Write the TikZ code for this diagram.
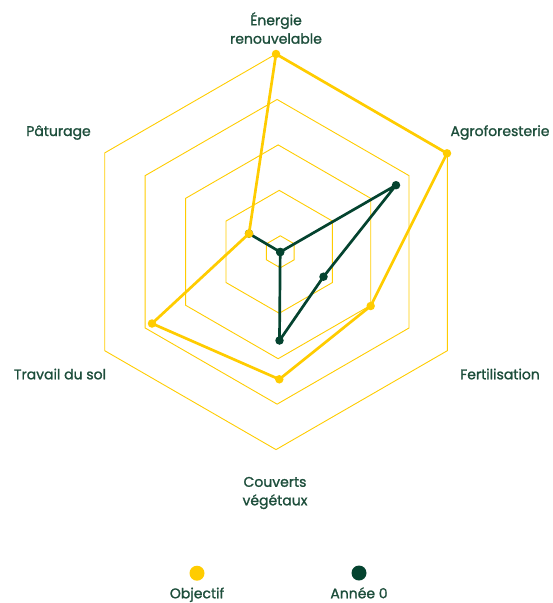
\documentclass[tikz,border=0pt]{standalone}
\usepackage{fontspec}
\setmainfont{Poppins}
\newfontfamily\lblfont{Poppins}[FakeBold=1.3]
\definecolor{gold}{HTML}{FFCC00}
\definecolor{forest}{HTML}{04432F}
\definecolor{labelgreen}{HTML}{1D4E3B}
\tikzset{
  gridline/.style={draw=gold, line width=0.9pt, line join=miter},
  series/.style={line width=2.7pt, line join=round, line cap=round},
  dot/.style={circle, inner sep=0pt, minimum size=8.5pt},
  legdot/.style={circle, inner sep=0pt, minimum size=15pt},
  lbl/.style={font=\lblfont\fontsize{14}{18.5}\selectfont, text=labelgreen, inner sep=0pt, align=center},
}
\begin{document}
\begin{tikzpicture}[x=1pt,y=-1pt]
\useasboundingbox (0,0) rectangle (553,603);
% grid rings
\foreach \k in {0,...,4}{
  \pgfmathsetmacro\cx{280.3-1.07*\k}
  \pgfmathsetmacro\rr{16+45.45*\k}
  \draw[gridline] ({\cx},{251.8-\rr}) -- ({\cx+0.866*\rr},{251.8-0.5*\rr})
    -- ({\cx+0.866*\rr},{251.8+0.5*\rr}) -- ({\cx},{251.8+\rr})
    -- ({\cx-0.866*\rr},{251.8+0.5*\rr}) -- ({\cx-0.866*\rr},{251.8-0.5*\rr}) -- cycle;
}
% data coordinates
\coordinate (oE) at (276,54);
\coordinate (oA) at (447,153.3);
\coordinate (oF) at (370.7,306);
\coordinate (oC) at (279.3,379.3);
\coordinate (oT) at (152,323.5);
\coordinate (oP) at (249,233.6);
\coordinate (aE) at (280.2,252);
\coordinate (aA) at (396,185.2);
\coordinate (aF) at (323.5,276.7);
\coordinate (aC) at (279.5,340.5);
\coordinate (aT) at (280.2,252);
\coordinate (aP) at (249,233.6);
% Année 0 series
\draw[series, forest] (aE) -- (aA) -- (aF) -- (aC) -- (aT) -- (aP) -- cycle;
\foreach \p in {aE,aA,aF,aC,aT,aP}{ \node[dot, fill=forest] (d\p) at (\p) {}; }
% Objectif series
\draw[series, gold] (oE) -- (oA) -- (oF) -- (oC) -- (oT) -- (oP) -- cycle;
\foreach \p in {oE,oA,oF,oC,oT,oP}{ \node[dot, fill=gold] (d\p) at (\p) {}; }
% axis labels
\node[lbl] (lE) at (276,28) {Énergie\\renouvelable};
\node[lbl, anchor=base] (lA) at (500,136) {Agroforesterie};
\node[lbl, anchor=base] (lP) at (58.5,136) {Pâturage};
\node[lbl, anchor=base] (lT) at (60,379.3) {Travail du sol};
\node[lbl, anchor=base] (lF) at (500,379.3) {Fertilisation};
\node[lbl] (lC) at (275,493) {Couverts\\végétaux};
% legend
\node[legdot, fill=gold] (kO) at (197,573.2) {};
\node[legdot, fill=forest] (kA) at (359,573) {};
\node[lbl, anchor=base] (tO) at (197,598.3) {Objectif};
\node[lbl, anchor=base] (tA) at (359,598.3) {Année 0};
\end{tikzpicture}
\end{document}
